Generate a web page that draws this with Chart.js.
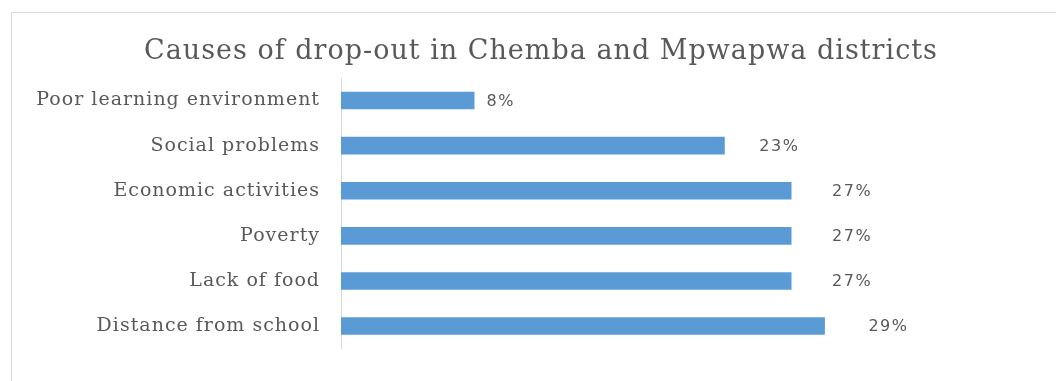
<!DOCTYPE html>
<html>
<head>
<meta charset="utf-8">
<script src="https://cdn.jsdelivr.net/npm/chart.js@4.4.0/dist/chart.umd.min.js"></script>
<style>
  html, body { margin: 0; padding: 0; background: #fff; }
  #wrap { position: relative; width: 1056px; height: 381px; overflow: hidden; }
  #frame { position: absolute; left: 11px; top: 12px; width: 1060px; height: 400px; border: 1px solid #d9d9d9; box-sizing: border-box; }
  #dropChart { position: absolute; left: 0; top: 0; }
</style>
</head>
<body>
<div id="wrap">
  <div id="frame"></div>
  <canvas id="dropChart" width="1056" height="381"></canvas>
</div>
<script>
// Categories and percentages, top to bottom
const causes = ['Poor learning environment', 'Social problems', 'Economic activities', 'Poverty', 'Lack of food', 'Distance from school'];
const percents = [8, 23, 27, 27, 27, 29];
const chartTitle = 'Causes of drop-out in Chemba and Mpwapwa districts';

const textGrey = '#595959';

// Wider letter spacing for the category labels (serif text in the original is loosely set)
const spacing = {
    id: 'spacing',
    beforeDraw(chart) {
        chart.ctx.letterSpacing = '1px';
    }
};

// Title drawn centred over the whole frame
const frameTitle = {
    id: 'frameTitle',
    afterDraw(chart) {
        const ctx = chart.ctx;
        ctx.save();
        ctx.letterSpacing = '1px';
        ctx.font = '27px "DejaVu Serif", serif';
        ctx.fillStyle = textGrey;
        ctx.textAlign = 'center';
        ctx.textBaseline = 'middle';
        ctx.fillText(chartTitle, 541, 52);
        ctx.restore();
    }
};

// Percent labels sit a bit right of each bar end
const valueLabels = {
    id: 'valueLabels',
    afterDatasetsDraw(chart) {
        const ctx = chart.ctx;
        const xs = chart.scales.x;
        const meta = chart.getDatasetMeta(0);
        ctx.save();
        ctx.letterSpacing = '1.5px';
        ctx.font = '16px "DejaVu Sans", sans-serif';
        ctx.fillStyle = textGrey;
        ctx.textAlign = 'left';
        ctx.textBaseline = 'middle';
        meta.data.forEach((bar, i) => {
            const v = percents[i];
            ctx.fillText(v + '%', xs.getPixelForValue(v * 1.09), bar.y + 1);
        });
        ctx.restore();
    }
};

new Chart(document.getElementById('dropChart'), {
    type: 'bar',
    data: {
        labels: causes,
        datasets: [{
            data: percents,
            backgroundColor: '#5b9bd5',
            borderWidth: 0,
            barPercentage: 0.39,
            categoryPercentage: 1.0
        }]
    },
    options: {
        indexAxis: 'y',
        responsive: false,
        animation: false,
        layout: { padding: { left: 0, right: 131, top: 78, bottom: 32 } },
        plugins: {
            legend: { display: false },
            tooltip: { enabled: false },
            title: { display: false }
        },
        scales: {
            x: {
                display: false,
                min: 0,
                max: 35
            },
            y: {
                grid: { display: false, drawTicks: false },
                border: { display: true, color: '#d9d9d9', width: 1 },
                ticks: {
                    color: textGrey,
                    padding: 21,
                    font: { family: '"DejaVu Serif", serif', size: 19 }
                },
                afterFit(scale) { scale.width = 341; }
            }
        }
    },
    plugins: [spacing, valueLabels, frameTitle]
});
</script>
</body>
</html>
